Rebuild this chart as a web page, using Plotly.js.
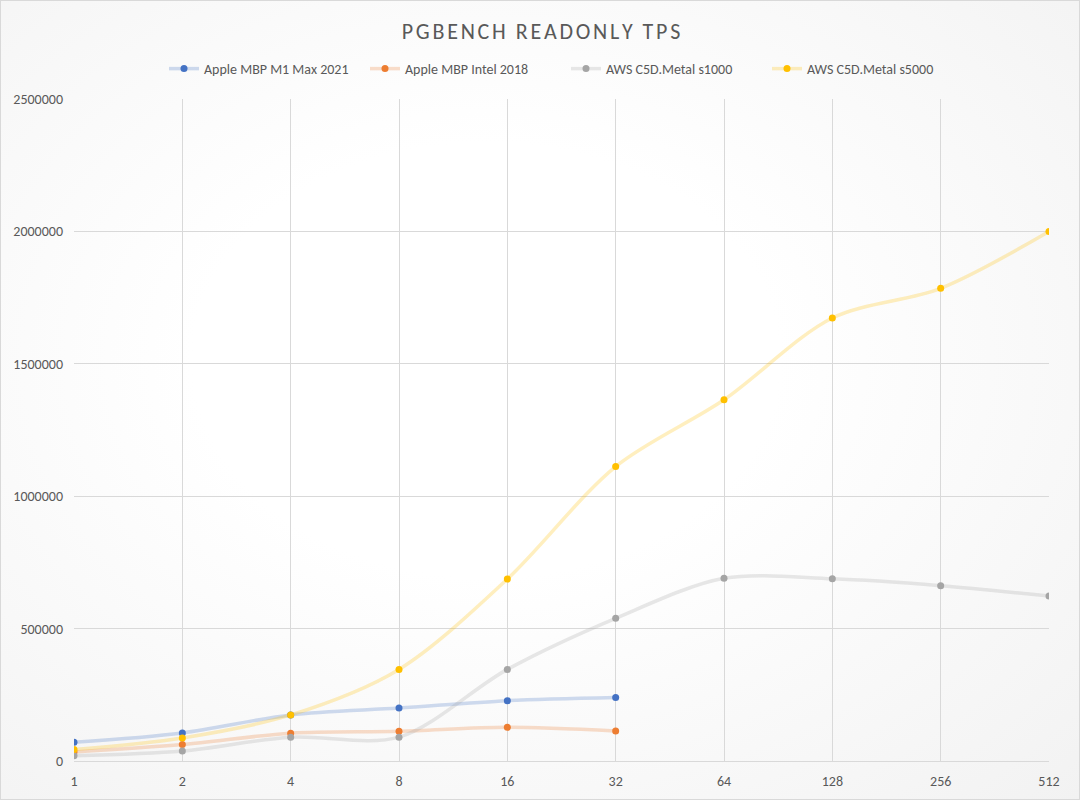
<!DOCTYPE html>
<html>
<head>
<meta charset="utf-8">
<script src="https://cdn.plot.ly/plotly-3.0.1.min.js"></script>
<style>
  html, body { margin:0; padding:0; }
  #chart {
    width:1080px; height:800px; box-sizing:border-box;
    border:1px solid #d9d9d9;
    background: radial-gradient(ellipse at 45% 45%, #ffffff 0%, #ffffff 35%, #f2f2f2 100%);
  }
</style>
</head>
<body>
<div id="chart"></div>
<script>
// categories (clients)
const clients = ['1','2','4','8','16','32','64','128','256','512'];

// TPS values
const m1Max2021  = [70500, 106000, 174000, 200000, 228000, 240000];
const intel2018  = [34000, 62000, 105000, 112000, 127000, 113000];
const awsS1000   = [20000, 38000, 90000, 90000, 346000, 539000, 690000, 688000, 662000, 623000];
const awsS5000   = [43000, 87000, 174000, 346000, 687000, 1112000, 1364000, 1673000, 1785000, 2000000];

const seriesNames = ['Apple MBP M1 Max 2021', 'Apple MBP Intel 2018', 'AWS C5D.Metal s1000', 'AWS C5D.Metal s5000'];
const seriesData = [m1Max2021, intel2018, awsS1000, awsS5000];
const markerColors = ['#4472C4', '#ED7D31', '#A5A5A5', '#FFC000'];
const lineColors = ['rgba(68,114,196,0.25)', 'rgba(237,125,49,0.25)', 'rgba(165,165,165,0.25)', 'rgba(255,192,0,0.25)'];

const traces = seriesData.map((vals, i) => ({
  type: 'scatter',
  mode: 'lines+markers',
  name: seriesNames[i],
  x: clients.slice(0, vals.length),
  y: vals,
  line: { color: lineColors[i], width: 3.5, shape: 'spline', smoothing: 0.9 },
  marker: { color: markerColors[i], size: 7 },
  hoverinfo: 'x+y+name'
}));

const gridCol = '#d9d9d9';
const txtCol = '#595959';
const font = 'Carlito, Lato, "Open Sans", sans-serif';

const layout = {
  width: 1080, height: 800,
  autosize: false,
  margin: { l: 73, r: 32, t: 98, b: 40, autoexpand: false },
  paper_bgcolor: 'rgba(0,0,0,0)',
  plot_bgcolor: 'rgba(0,0,0,0)',
  font: { family: font, color: txtCol, size: 14 },
  title: {
    text: 'P G B E N C H   R E A D O N L Y   T P S'.replace(/ /g, '\u200a').replace(/\u200a\u200a\u200a/g, '  '),
    x: 0.5, xref: 'container', xanchor: 'center',
    y: 1 - 30/800, yref: 'container', yanchor: 'middle',
    font: { family: font, size: 22, color: txtCol }
  },
  showlegend: true,
  legend: {
    orientation: 'h',
    x: (163 - 73) / 975, xref: 'paper', xanchor: 'left',
    y: 1 + 30/662, yanchor: 'middle',
    font: { family: font, size: 14, color: txtCol },
    bgcolor: 'rgba(0,0,0,0)',
    traceorder: 'normal',
    itemwidth: 30,
    entrywidth: 156
  },
  xaxis: {
    type: 'category',
    categoryorder: 'array', categoryarray: clients,
    range: [0, clients.length - 1],
    showgrid: true, gridcolor: gridCol, gridwidth: 1,
    showline: false, zeroline: false,
    ticks: '', ticklabelstandoff: 10,
    tickfont: { family: font, size: 14, color: txtCol }
  },
  yaxis: {
    range: [0, 2500000],
    dtick: 500000,
    tickformat: 'd',
    showgrid: true, gridcolor: gridCol, gridwidth: 1,
    zeroline: true, zerolinecolor: gridCol, zerolinewidth: 1,
    showline: false, ticks: '', ticklabelstandoff: 10,
    tickfont: { family: font, size: 14, color: txtCol }
  }
};

Plotly.newPlot('chart', traces, layout, { displayModeBar: false, responsive: false });
</script>
</body>
</html>
